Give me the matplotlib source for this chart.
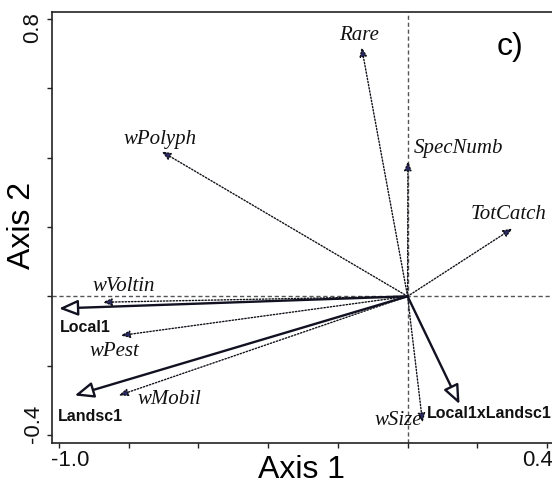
import matplotlib
matplotlib.use("Agg")
import matplotlib.pyplot as plt
from matplotlib.patches import FancyArrowPatch
from matplotlib.transforms import blended_transform_factory, offset_copy

# ---- data ----
species = ["Rare", "SpecNumb", "TotCatch", "wPolyph", "wVoltin", "wPest", "wMobil", "wSize"]
species_x = [-0.132, 0.001, 0.301, -0.706, -0.875, -0.823, -0.829, 0.043]
species_y = [0.719, 0.390, 0.196, 0.418, -0.017, -0.113, -0.286, -0.364]

env = ["Local1", "Landsc1", "Local1xLandsc1"]
env_x = [-1.000, -0.955, 0.149]
env_y = [-0.035, -0.286, -0.311]

xtick_values = [-1.0, -0.8, -0.6, -0.4, -0.2, 0.0, 0.2, 0.4]
ytick_values = [-0.4, -0.2, 0.0, 0.2, 0.4, 0.6, 0.8]
xtick_labels = {-1.0: "-1.0", 0.4: "0.4"}
ytick_labels = {0.8: "0.8", -0.4: "-0.4"}

# ---- layout (label offsets in pixels: dx right, dy down; alignment) ----
species_label_layout = {
    "Rare": (-3, -12, "center"),
    "SpecNumb": (6, -13, "left"),
    "TotCatch": (-4, -14, "center"),
    "wPolyph": (-1, -12, "center"),
    "wVoltin": (21, -16, "center"),
    "wPest": (-6, 16, "center"),
    "wMobil": (19, 4, "left"),
    "wSize": (-1, -2, "right"),
}
env_label_layout = {
    "Local1": (26, 19, "center"),
    "Landsc1": (16, 21, "center"),
    "Local1xLandsc1": (-33, 9, "left"),
}

DPI = 100
PX = 72.0 / DPI
W, H = 552, 491

fig = plt.figure(figsize=(W / DPI, H / DPI), dpi=DPI)
ax = fig.add_axes([52 / W, 48 / H, 1 - 52 / W, 431 / H])
ax.set_xlim(-1.0201, 0.4143)
ax.set_ylim(-0.4231, 0.8202)

for s in ["left", "bottom", "top"]:
    ax.spines[s].set_linewidth(1.2)
    ax.spines[s].set_color("#222222")
ax.spines["right"].set_visible(False)

ax.set_xticks(xtick_values)
ax.set_yticks(ytick_values)
ax.set_xticklabels([])
ax.set_yticklabels([])
ax.tick_params(direction="out", length=3.5, width=1.0, color="#222222")

# tick labels placed as text (shifted inward like the reference)
bx = blended_transform_factory(ax.transData, ax.transAxes)
by = blended_transform_factory(ax.transAxes, ax.transData)
xshift = {-1.0: 11.5, 0.4: -9}
for v, t in xtick_labels.items():
    tr = offset_copy(bx, fig=fig, x=xshift[v] * PX, y=-18 * PX, units="points")
    ax.text(v, 0, t, transform=tr, ha="center", va="center", fontsize=16,
            family="Liberation Sans", color="#111111")
yshift = {0.8: -8.5, -0.4: 11}
for v, t in ytick_labels.items():
    tr = offset_copy(by, fig=fig, x=-19 * PX, y=yshift[v] * PX, units="points")
    ax.text(0, v, t, transform=tr, ha="center", va="center", fontsize=16,
            rotation=90, family="Liberation Sans", color="#111111")

ax.set_xlabel("Axis 1", fontsize=23, family="Liberation Sans")
ax.xaxis.label.set_va("center")
ax.xaxis.label.set_ha("center")
ax.xaxis.set_label_coords((301 - 52) / (W - 52), -(470 - 443) / 431)
ax.set_ylabel("Axis 2", fontsize=23, family="Liberation Sans")
ax.yaxis.label.set_va("center")
ax.yaxis.label.set_ha("center")
ax.yaxis.set_label_coords(-(52 - 22) / (W - 52), (443 - 225) / 431)

# reference lines through the origin
ax.axhline(0, color="#555555", lw=1.0, ls=(0, (3, 2)), zorder=1)
ax.axvline(0, color="#555555", lw=1.0, ls=(0, (3, 2)), zorder=1)

# species arrows (dotted, small filled heads)
for name, x, y in zip(species, species_x, species_y):
    arr = FancyArrowPatch((0, 0), (x, y), arrowstyle="-|>,head_length=5.5,head_width=2.2",
                          mutation_scale=1, lw=1.0, ls=(0, (1, 1.3)),
                          ec="#111118", fc="#2a2a66", shrinkA=0, shrinkB=0, zorder=3)
    ax.add_patch(arr)
    dx, dy, ha = species_label_layout[name]
    ax.annotate(name, xy=(x, y), xytext=(dx * PX, -dy * PX), textcoords="offset points",
                ha=ha, va="center", fontsize=15, family="Liberation Serif",
                style="italic", color="#111111", zorder=5)

# environmental arrows (solid, open heads)
for name, x, y in zip(env, env_x, env_y):
    arr = FancyArrowPatch((0, 0), (x, y), arrowstyle="-|>,head_length=11.5,head_width=4.8",
                          mutation_scale=1, lw=1.7, ec="#111122", fc="white",
                          shrinkA=0, shrinkB=0, zorder=4)
    ax.add_patch(arr)
    dx, dy, ha = env_label_layout[name]
    ax.annotate(name, xy=(x, y), xytext=(dx * PX, -dy * PX), textcoords="offset points",
                ha=ha, va="center", fontsize=11.5, family="Liberation Sans",
                weight="bold", color="#111111", zorder=5, annotation_clip=False)

ax.text(510 / W, 1 - 47 / H, "c)", transform=fig.transFigure, fontsize=23,
        family="Liberation Sans", ha="center", va="center")

fig.savefig("out.png", dpi=DPI)
